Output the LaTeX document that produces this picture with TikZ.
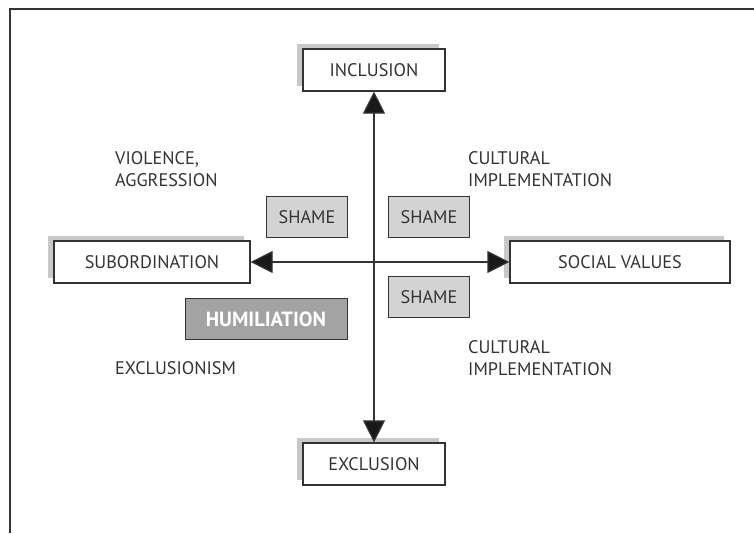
\documentclass[tikz,border=0pt]{standalone}
\usepackage{fontspec}
\setmainfont{PT Sans}
\usetikzlibrary{arrows.meta, shadows}

\definecolor{ink}{HTML}{333333}
\definecolor{shadowgray}{HTML}{C8C8C8}
\definecolor{shamegray}{HTML}{D3D3D3}
\definecolor{humgray}{HTML}{A3A3A3}

\begin{document}
\begin{tikzpicture}[
    x=1pt, y=-1pt,          % pixel-like units, y downwards
    font=\fontsize{18.2}{22}\selectfont,
    text=ink,
    axis/.style={{Triangle[length=22pt,width=22pt,fill=black!90]}-{Triangle[length=22pt,width=22pt,fill=black!90]}, draw=ink, line width=1.2pt},
    pole/.style={rectangle, draw=ink, line width=1.2pt, fill=white, minimum height=42pt,
                 drop shadow={shadow xshift=-6pt, shadow yshift=5pt, fill=shadowgray, opacity=1}},
    shamebox/.style={rectangle, draw=ink, line width=1pt, fill=shamegray, minimum width=81pt, minimum height=41pt},
    humbox/.style={rectangle, draw=ink, line width=1pt, fill=humgray, text=white, font=\fontsize{20.5}{22}\selectfont\bfseries, minimum width=162pt, minimum height=41pt},
    remark/.style={anchor=west, align=left, inner sep=0pt}
  ]
  \useasboundingbox (0,0) rectangle (754,533);

  % --- FRAME ---
  \draw[ink, line width=1.2pt] (10,533) -- (10,9) -- (754,9);

  % --- POLES ---
  \node[pole, minimum width=142pt] (incl) at (374,70) {INCLUSION};
  \node[pole, minimum width=142pt] (excl) at (374,464) {EXCLUSION};
  \node[pole, minimum width=196pt] (sub) at (152,262) {SUBORDINATION};
  \node[pole, minimum width=220pt] (soc) at (620,262) {SOCIAL VALUES};

  % --- AXES ---
  \draw[axis] (excl.north) -- (incl.south);
  \draw[axis] (sub.east) -- (soc.west);

  % --- SHAME / HUMILIATION ---
  \node[shamebox] (shameL) at (307,217) {SHAME};
  \node[shamebox] (shameR) at (429,217) {SHAME};
  \node[shamebox] (shameB) at (429,297) {SHAME};
  \node[humbox] (hum) at (266,319) {HUMILIATION};

  % --- REMARKS ---
  \node[remark] (viol) at (115,169) {VIOLENCE,\\AGGRESSION};
  \node[remark] (cultA) at (468,169) {CULTURAL\\IMPLEMENTATION};
  \node[remark] (cultB) at (468,358) {CULTURAL\\IMPLEMENTATION};
  \node[remark] (exclism) at (115,368) {EXCLUSIONISM};

\end{tikzpicture}
\end{document}
